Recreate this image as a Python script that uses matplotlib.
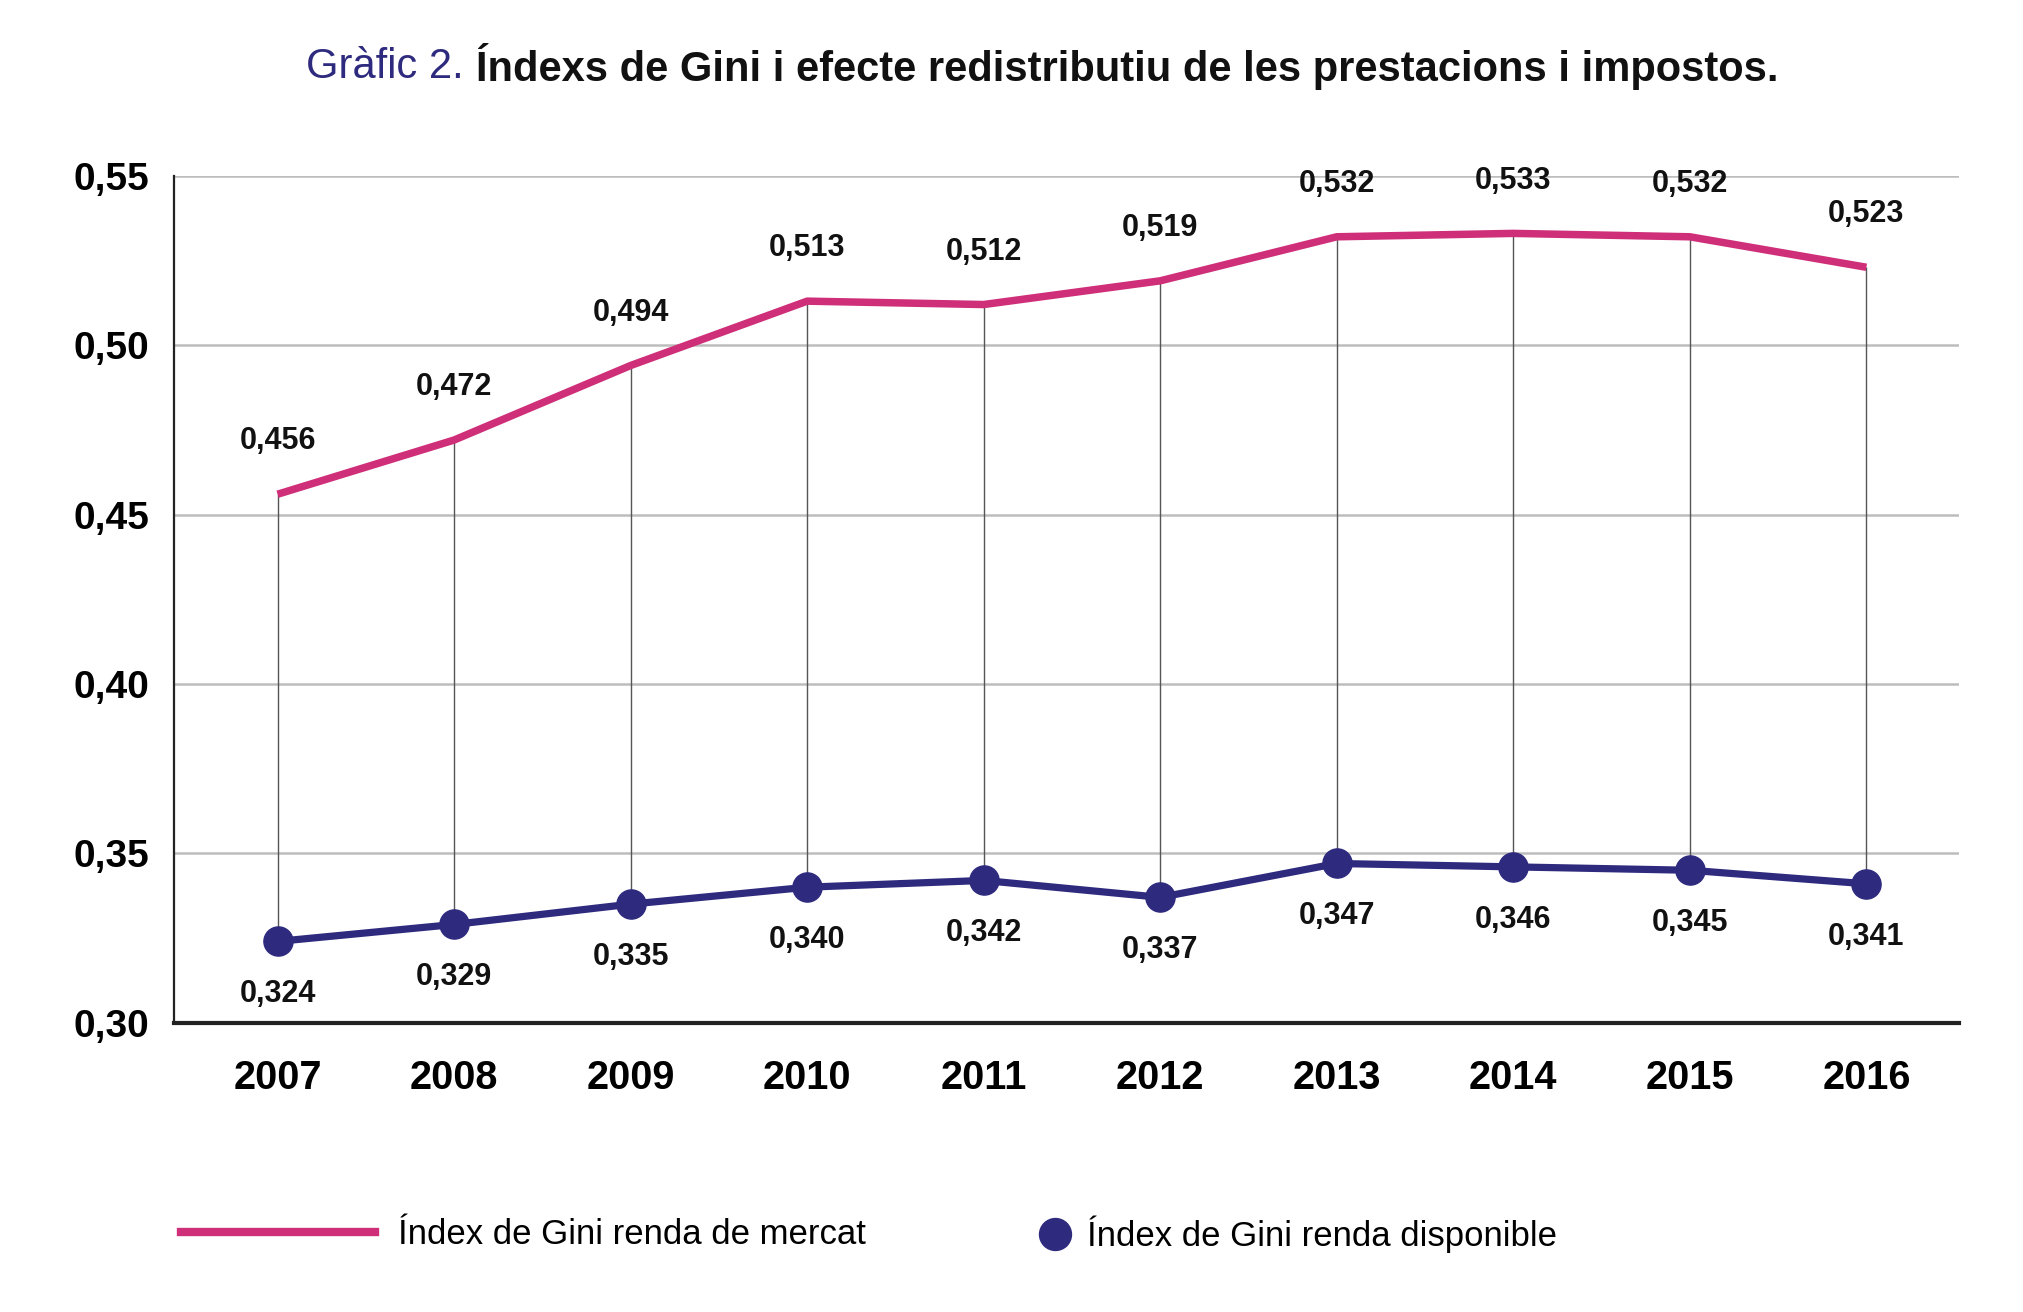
import matplotlib.pyplot as plt
from matplotlib.lines import Line2D

# data
years = [2007, 2008, 2009, 2010, 2011, 2012, 2013, 2014, 2015, 2016]
gini_mercat = [0.456, 0.472, 0.494, 0.513, 0.512, 0.519, 0.532, 0.533, 0.532, 0.523]
gini_disponible = [0.324, 0.329, 0.335, 0.340, 0.342, 0.337, 0.347, 0.346, 0.345, 0.341]
yticks = [0.30, 0.35, 0.40, 0.45, 0.50, 0.55]
label_mercat = 'Índex de Gini renda de mercat'
label_disponible = 'Índex de Gini renda disponible'

PINK = '#cf2e78'
NAVY = '#2e2a7e'

plt.rcParams['font.family'] = ['Liberation Sans', 'DejaVu Sans']


def fmt(v, nd=3):
    return f'{v:.{nd}f}'.replace('.', ',')


fig = plt.figure(figsize=(20.24, 13.12), dpi=100)
ax = fig.add_axes([0.0861, 0.2205, 0.8819, 0.6455])

# connectors between both series
ax.vlines(years, gini_disponible, gini_mercat, color='#555555', lw=1.0, zorder=2)

ax.plot(years, gini_mercat, color=PINK, lw=5.4, solid_capstyle='butt', zorder=3)
ax.plot(years, gini_disponible, color=NAVY, lw=5.2, marker='o', ms=21, zorder=4)

for x, v in zip(years, gini_mercat):
    ax.annotate(fmt(v), (x, v), xytext=(0, 38), textcoords='offset points',
                ha='center', va='center', fontsize=22, fontweight='bold', color='#111111')
for x, v in zip(years, gini_disponible):
    ax.annotate(fmt(v), (x, v), xytext=(0, -38), textcoords='offset points',
                ha='center', va='center', fontsize=22, fontweight='bold', color='#111111')

ax.set_xlim(2006.415, 2016.526)
ax.set_ylim(0.30, 0.55)
ax.set_xticks(years)
ax.set_xticklabels([str(y) for y in years], fontsize=28.5, fontweight='bold')
ax.set_yticks(yticks)
ax.set_yticklabels([fmt(v, 2) for v in yticks], fontsize=28, fontweight='bold')
ax.tick_params(axis='both', length=0)
ax.tick_params(axis='x', pad=26)
ax.tick_params(axis='y', pad=18)

for v in yticks[1:]:
    ax.axhline(v, color='#bdbdbd', lw=1.8, zorder=1)

for s in ['top', 'right']:
    ax.spines[s].set_visible(False)
ax.spines['left'].set_linewidth(1.6)
ax.spines['left'].set_color('#222222')
ax.spines['bottom'].set_linewidth(3.0)
ax.spines['bottom'].set_color('#222222')
ax.spines['bottom'].set_zorder(5)

# legend, two separate pieces so the handles can differ in length
h1 = Line2D([], [], color=PINK, lw=6)
fig.legend(handles=[h1], labels=[label_mercat], loc='center left',
           bbox_to_anchor=(0.0893, 0.059), frameon=False, fontsize=25,
           handlelength=5.6, handletextpad=0.67, borderpad=0, borderaxespad=0)
h2 = Line2D([], [], color=NAVY, lw=0, marker='o', ms=23)
fig.legend(handles=[h2], labels=[label_disponible], loc='center left',
           bbox_to_anchor=(0.5125, 0.059), frameon=False, fontsize=25,
           handlelength=1.0, handletextpad=0.43, borderpad=0, borderaxespad=0)

# title: navy lead-in + bold black text, centred together
ty = 0.949
t1 = fig.text(0, ty, 'Gràfic 2.', color=NAVY, fontsize=30, va='center', ha='left')
t2 = fig.text(0, ty, 'Índexs de Gini i efecte redistributiu de les prestacions i impostos.',
              color='#111111', fontsize=30, fontweight='bold', va='center', ha='left')
r = fig.canvas.get_renderer()
W = fig.bbox.width
w1 = t1.get_window_extent(r).width
w2 = t2.get_window_extent(r).width
gap = 12
x0 = 0.515 * W - (w1 + gap + w2) / 2
t1.set_x(x0 / W)
t2.set_x((x0 + w1 + gap) / W)

fig.savefig('out.png', dpi=100, facecolor='white')
